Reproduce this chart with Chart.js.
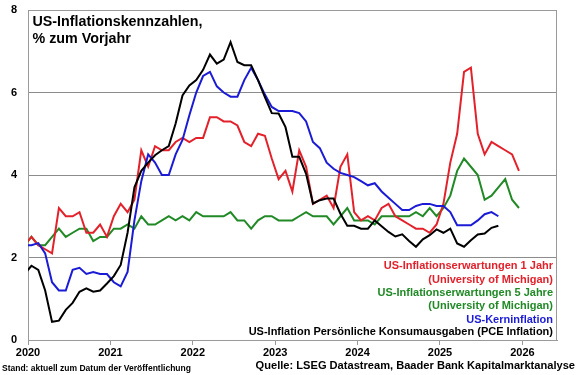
<!DOCTYPE html>
<html><head><meta charset="utf-8">
<script src="https://cdn.jsdelivr.net/npm/chart.js@4/dist/chart.umd.min.js"></script>
<style>html,body{margin:0;padding:0;background:#fff;}#wrap{width:580px;height:375px;position:relative;}</style>
</head><body><div id="wrap"><canvas id="c" width="580" height="375"></canvas></div>
<script>
// Monthly categories Dec 2019 .. Dec 2025
const months = [];
for (let y = 2019, m = 12; y < 2026; ) { months.push(y + '-' + String(m).padStart(2, '0')); m++; if (m > 12) { m = 1; y++; } }

const yearTicks = [2020, 2021, 2022, 2023, 2024, 2025, 2026];
const yTicks = [0, 2, 4, 6, 8];

// US-Inflationserwartungen 1 Jahr (University of Michigan)
const umich1y = [2.3,
  2.5, 2.3, 2.2, 2.1, 3.2, 3.0, 3.0, 3.1, 2.6, 2.6, 2.8, 2.5,
  3.0, 3.3, 3.1, 3.4, 4.6, 4.2, 4.7, 4.6, 4.6, 4.8, 4.9, 4.8,
  4.9, 4.9, 5.4, 5.4, 5.3, 5.3, 5.2, 4.8, 4.7, 5.0, 4.95, 4.4,
  3.9, 4.1, 3.6, 4.6, 4.2, 3.3, 3.4, 3.5, 3.2, 4.2, 4.5, 3.1,
  2.9, 3.0, 2.9, 3.2, 3.3, 3.0, 2.9, 2.8, 2.7, 2.7, 2.6, 2.8,
  3.3, 4.3, 5.0, 6.5, 6.6, 5.0, 4.5, 4.8, 4.7, 4.6, 4.5, 4.1];
// US-Inflationserwartungen 5 Jahre (University of Michigan)
const umich5y = [2.3,
  2.5, 2.3, 2.3, 2.5, 2.7, 2.5, 2.6, 2.7, 2.7, 2.4, 2.5, 2.5,
  2.7, 2.7, 2.8, 2.7, 3.0, 2.8, 2.8, 2.9, 3.0, 2.9, 3.0, 2.9,
  3.1, 3.0, 3.0, 3.0, 3.0, 3.1, 2.9, 2.9, 2.7, 2.9, 3.0, 3.0,
  2.9, 2.9, 2.9, 3.0, 3.1, 3.0, 3.0, 3.0, 2.8, 3.0, 3.2, 2.9,
  2.9, 2.9, 2.8, 3.0, 3.0, 3.0, 3.0, 3.0, 3.1, 3.0, 3.2, 3.0,
  3.2, 3.5, 4.1, 4.4, 4.2, 4.0, 3.4, 3.5, 3.7, 3.9, 3.4, 3.2];
// US-Kerninflation
const coreCpi = [2.3,
  2.3, 2.35, 2.1, 1.4, 1.2, 1.2, 1.7, 1.75, 1.6, 1.65, 1.6, 1.6,
  1.4, 1.3, 1.65, 2.9, 3.85, 4.5, 4.3, 4.0, 4.0, 4.5, 4.85, 5.45,
  6.0, 6.4, 6.5, 6.15, 6.0, 5.9, 5.9, 6.3, 6.6, 6.3, 5.95, 5.65,
  5.55, 5.55, 5.55, 5.5, 5.3, 4.8, 4.65, 4.3, 4.15, 4.05, 4.0, 3.95,
  3.85, 3.75, 3.8, 3.6, 3.45, 3.3, 3.15, 3.15, 3.25, 3.3, 3.3, 3.25,
  3.25, 3.1, 2.78, 2.78, 2.78, 2.9, 3.05, 3.1, 3.0];
// US-Inflation Persönliche Konsumausgaben (PCE Inflation)
const pce = [1.6,
  1.8, 1.7, 1.2, 0.44, 0.47, 0.73, 0.9, 1.17, 1.25, 1.17, 1.2, 1.37,
  1.55, 1.82, 2.6, 3.7, 4.1, 4.3, 4.48, 4.6, 4.7, 5.25, 5.93, 6.17,
  6.3, 6.55, 6.92, 6.7, 6.8, 7.22, 6.74, 6.66, 6.66, 6.3, 5.89, 5.5,
  5.49, 5.16, 4.44, 4.44, 4.03, 3.31, 3.39, 3.43, 3.43, 3.06, 2.77, 2.77,
  2.7, 2.7, 2.9, 2.76, 2.62, 2.51, 2.56, 2.4, 2.26, 2.44, 2.54, 2.68,
  2.6, 2.7, 2.34, 2.26, 2.42, 2.56, 2.58, 2.72, 2.77];

const FONT = '"Liberation Sans", Arial, sans-serif';
const RED = '#e3212b', GREEN = '#218a26', BLUE = '#1b1bd6', BLACK = '#000000';

const toX = m => { const p = m.split('-').map(Number); return p[0] + (p[1] - 0.5) / 12; };
const series = vals => vals.map((v, i) => ({ x: toX(months[i]), y: v }));

const legendLines = [
  ['US-Inflationserwartungen 1 Jahr', RED],
  ['(University of Michigan)', RED],
  ['US-Inflationserwartungen 5 Jahre', GREEN],
  ['(University of Michigan)', GREEN],
  ['US-Kerninflation', BLUE],
  ['US-Inflation Persönliche Konsumausgaben (PCE Inflation)', BLACK]
];

const decor = {
  id: 'decor',
  beforeDatasetsDraw(chart) {
    const { ctx, chartArea: a } = chart;
    ctx.save();
    ctx.strokeStyle = '#9a9a9a';
    ctx.lineWidth = 1;
    ctx.strokeRect(Math.round(a.left) + 0.5, Math.round(a.top) + 0.5, Math.round(a.right - a.left) - 1, Math.round(a.bottom - a.top));
    ctx.restore();
  },
  afterDraw(chart) {
    const { ctx, chartArea: a } = chart;
    ctx.save();
    ctx.fillStyle = '#000';
    ctx.textAlign = 'left';
    ctx.textBaseline = 'alphabetic';
    ctx.font = 'bold 14.3px ' + FONT;
    ctx.fillText('US-Inflationskennzahlen,', a.left + 4.5, 26);
    ctx.fillText('% zum Vorjahr', a.left + 4.5, 43);
    ctx.font = 'bold 11px ' + FONT;
    ctx.textAlign = 'right';
    ctx.textBaseline = 'middle';
    const ys = [266, 279.5, 293, 306.3, 319.8, 332];
    legendLines.forEach((l, i) => { ctx.fillStyle = l[1]; ctx.fillText(l[0], 553, ys[i]); });
    ctx.fillStyle = '#000';
    ctx.font = 'bold 8.5px ' + FONT;
    ctx.textAlign = 'left';
    ctx.fillText('Stand: aktuell zum Datum der Veröffentlichung', 2, 368.5);
    ctx.font = 'bold 11.1px ' + FONT;
    ctx.textAlign = 'right';
    ctx.fillText('Quelle: LSEG Datastream, Baader Bank Kapitalmarktanalyse', 575, 366);
    ctx.restore();
  }
};

const ds = (label, vals, color) => ({
  label, data: series(vals), borderColor: color, backgroundColor: color,
  borderWidth: 2, pointRadius: 0, tension: 0, clip: 0, borderJoinStyle: 'miter'
});

new Chart(document.getElementById('c'), {
  type: 'line',
  data: { datasets: [
    ds('US-Inflation Persönliche Konsumausgaben (PCE Inflation)', pce, BLACK),
    ds('US-Kerninflation', coreCpi, BLUE),
    ds('US-Inflationserwartungen 1 Jahr (University of Michigan)', umich1y, RED),
    ds('US-Inflationserwartungen 5 Jahre (University of Michigan)', umich5y, GREEN)
  ] },
  options: {
    responsive: false, animation: false, devicePixelRatio: 1,
    layout: { padding: { top: 10, right: 23, left: 0, bottom: 0 } },
    plugins: { legend: { display: false }, tooltip: { enabled: false }, title: { display: false } },
    scales: {
      x: {
        type: 'linear', min: 2020, max: 2026.42,
        afterBuildTicks: s => { s.ticks = yearTicks.map(v => ({ value: v })); },
        afterFit: s => { s.height = 35; s.paddingLeft = 0; s.paddingRight = 0; },
        ticks: { color: '#000', font: { family: FONT, size: 11, weight: 'bold' }, padding: 1, maxRotation: 0, autoSkip: false, callback: v => String(v) },
        grid: { drawOnChartArea: false, drawTicks: true, tickLength: 5, color: '#9a9a9a' },
        border: { display: true, color: '#9a9a9a' }
      },
      y: {
        min: 0, max: 8,
        afterBuildTicks: s => { s.ticks = yTicks.map(v => ({ value: v })); },
        afterFit: s => { s.width = 28; s.paddingTop = 0; s.paddingBottom = 0; },
        ticks: { color: '#000', font: { family: FONT, size: 11, weight: 'bold' }, padding: 11 },
        grid: { color: '#8c8c8c', drawTicks: false },
        border: { display: true, color: '#9a9a9a' }
      }
    }
  },
  plugins: [decor]
});
</script></body></html>
